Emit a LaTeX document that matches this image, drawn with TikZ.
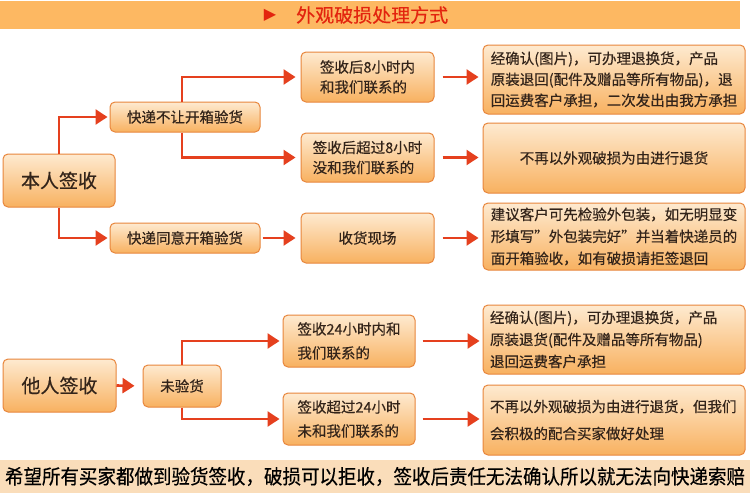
\documentclass[tikz,border=0pt]{standalone}
\usepackage{fontspec}
\usepackage{graphicx}
\setmainfont{Noto Sans CJK SC}[UprightFeatures={FakeBold=0.4}]
\newfontfamily\symfont{DejaVu Sans}
\usetikzlibrary{arrows.meta}
\definecolor{boxtop}{HTML}{FEEAD0}
\definecolor{boxbot}{HTML}{F8B160}
\definecolor{boxline}{HTML}{E8863C}
\definecolor{arr}{HTML}{E5401E}
\definecolor{titlebar}{HTML}{FDB862}
\definecolor{titletext}{HTML}{E3240E}
\definecolor{footbar}{HTML}{FADDBA}
\definecolor{txt}{HTML}{33241A}
\begin{document}
\begin{tikzpicture}[x=1pt,y=-1pt,
  box/.style 2 args={draw=boxline, line width=1pt, rounded corners=5pt,
    top color=boxtop, bottom color=boxbot, text=txt, inner sep=2pt,
    minimum width=#1, minimum height=#2},
  midtxt/.style={font=\fontsize{14.5}{20}\selectfont, align=left},
  bigtxt/.style={font=\fontsize{14.5}{21}\selectfont, align=left},
  arrow/.style={draw=arr, line width=2.6pt,
    -{Triangle[length=12pt,width=15pt]}}]
\useasboundingbox (0,0) rectangle (750,493);
\fill[white] (0,0) rectangle (750,493);

% title bar
\node[fill=titlebar, minimum width=740, minimum height=28, inner sep=0,
  anchor=north west] (titlebar) at (0,1) {};
\node[text=titletext, inner sep=0, font=\symfont\fontsize{16}{16}\selectfont] (tri) at (270,15) {▶};
\node[text=titletext, inner sep=0, anchor=west, font=\fontsize{19}{20}\selectfont] (title) at (296,15) {外观破损处理方式};

% upper part
\node[box={112}{53}, font=\fontsize{19}{22}\selectfont] (benren) at (59,180.5) {本人签收};
\node[box={150}{30}, font=\fontsize{14.5}{18}\selectfont] (kd1) at (185,117) {快递不让开箱验货};
\node[box={150}{30}, font=\fontsize{14.5}{18}\selectfont] (kd2) at (185,238) {快递同意开箱验货};
\node[box={133}{50}, midtxt] (m1) at (367.5,77) {签收后8小时内\\和我们联系的};
\node[box={133}{49}, midtxt] (m2) at (367.5,157.5) {签收后超过8小时\\没和我们联系的};
\node[box={133}{50}, midtxt] (m3) at (367.5,238) {收货现场};
\node[box={262}{69}, bigtxt] (r1) at (614,79.5) {经确认(图片)，可办理退换货，产品\\原装退回(配件及赠品等所有物品)，退\\回运费客户承担，二次发出由我方承担};
\node[box={262}{70}, bigtxt] (r2) at (614,158) {不再以外观破损为由进行退货};
\node[box={262}{67}, font=\fontsize{14.5}{22}\selectfont, align=left] (r3) at (614,236.5) {建议客户可先检验外包装，如无明显变\\形填写”外包装完好”并当着快递员的\\面开箱验收，如有破损请拒签退回};

\draw[arrow, shorten >=2pt] (benren.north) |- (kd1.west);
\draw[arrow, shorten >=2pt] (benren.south) |- (kd2.west);
\draw[arrow, shorten >=5pt] ([xshift=-3pt]kd1.north) |- (m1.west);
\draw[arrow, shorten >=5pt] ([xshift=-3pt]kd1.south) |- (m2.west);
\draw[arrow, shorten <=2pt, shorten >=5pt] (kd2.east) -- (m3.west);
\draw[arrow, shorten <=8pt, shorten >=4pt] (m1.east) -- (m1.east -| r1.west);
\draw[arrow, shorten <=8pt, shorten >=4pt] (m2.east) -- (m2.east -| r2.west);
\draw[arrow, shorten <=8pt, shorten >=4pt] (m3.east) -- (m3.east -| r3.west);

% lower part
\node[box={113}{53}, font=\fontsize{19}{22}\selectfont] (taren) at (59.5,385.5) {他人签收};
\node[box={78}{42}, font=\fontsize{14.5}{18}\selectfont] (wyh) at (182,386) {未验货};
\node[box={132}{52}, font=\fontsize{14.5}{24}\selectfont, align=left] (m4) at (349,341) {签收24小时内和\\我们联系的};
\node[box={132}{52}, font=\fontsize{14.5}{24}\selectfont, align=left] (m5) at (349,419) {签收超过24小时\\未和我们联系的};
\node[box={262}{69}, font=\fontsize{14.5}{22}\selectfont, align=left, text width=248pt] (r4) at (614,339.5) {经确认(图片)，可办理退换货，产品\\原装退货(配件及赠品等所有物品)\\退回运费客户承担};
\node[box={262}{70}, font=\fontsize{14.5}{27}\selectfont, align=left, text width=248pt] (r5) at (614,420) {不再以外观破损为由进行退货，但我们\\会积极的配合买家做好处理};

\draw[arrow, shorten >=8pt] (taren.east) -- (wyh.west);
\draw[arrow, shorten >=3pt] (wyh.north) |- (m4.west);
\draw[arrow, shorten >=3pt] (wyh.south) |- (m5.west);
\draw[arrow, shorten <=7pt, shorten >=3pt] (m4.east) -- (m4.east -| r4.west);
\draw[arrow, shorten <=7pt, shorten >=3pt] (m5.east) -- (m5.east -| r5.west);

% footer
\node[fill=footbar, minimum width=750, minimum height=33, inner sep=0,
  anchor=north west] (footbar) at (0,460) {};
\node[inner sep=0, text=black, font=\fontsize{20}{22}\selectfont] (foot) at (375,476.5)
  {\scalebox{0.925}[1]{希望所有买家都做到验货签收，破损可以拒收，签收后责任无法确认所以就无法向快递索赔}};
\end{tikzpicture}
\end{document}
